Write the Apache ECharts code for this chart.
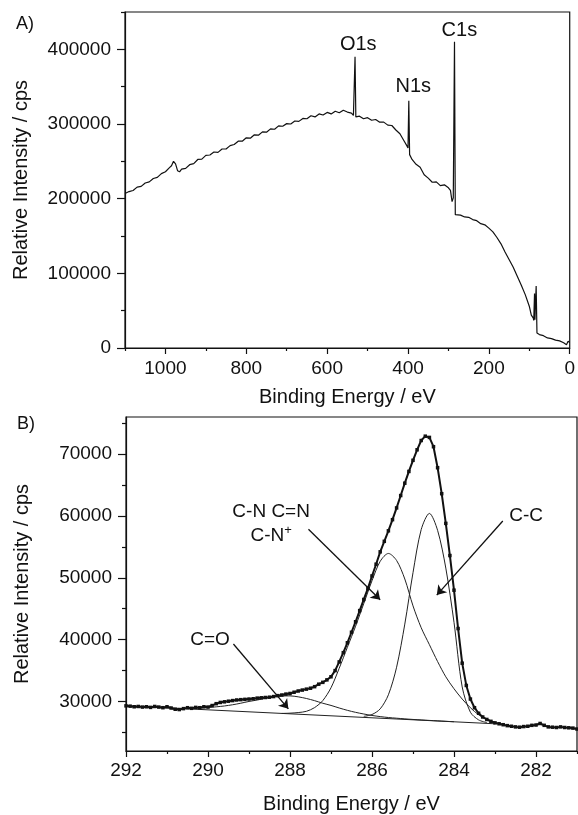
<!DOCTYPE html>
<html>
<head>
<meta charset="utf-8">
<script src="https://cdn.jsdelivr.net/npm/echarts@6/dist/echarts.min.js"></script>
<style>
html, body { margin: 0; padding: 0; background: #fff; }
#xps { width: 578px; height: 815px; }
</style>
</head>
<body>
<div id="xps"></div>
<script>
// ---- A) survey spectrum ----
var surveyEnergy = [1100, 1090, 1080, 1070, 1060, 1050, 1040, 1030, 1020, 1010,
  1000, 990, 985, 980, 975, 970, 965, 960, 950, 940,
  930, 920, 910, 900, 890, 880, 870, 860, 850, 840,
  830, 820, 810, 800, 790, 780, 770, 760, 750, 740,
  730, 720, 710, 700, 690, 680, 670, 660, 650, 640,
  630, 620, 610, 600, 590, 580, 570, 560, 550, 540,
  535, 533, 531, 529, 520, 510, 500, 490, 480, 470,
  460, 450, 440, 430, 420, 410, 403, 400, 398, 396,
  390, 380, 370, 360, 350, 340, 330, 320, 310, 300,
  295, 291, 288, 285, 283, 280, 270, 260, 250, 240,
  230, 220, 210, 200, 190, 180, 170, 160, 150, 140,
  130, 120, 110, 100, 95, 90, 89, 87, 86, 83,
  81, 75, 65, 55, 45, 35, 25, 15, 8, 4, 0];
var surveyCounts = [207000, 209500, 211000, 215500, 216500, 221000, 222500, 227000, 228500, 233500,
  236000, 241500, 244000, 250000, 246500, 237500, 236000, 239500, 240500, 245500,
  247000, 252500, 253000, 258000, 258500, 262500, 262000, 266500, 266500, 271000,
  272500, 277000, 277000, 281500, 281000, 285500, 285000, 289500, 289000, 293500,
  293000, 297500, 297000, 300500, 300000, 304000, 303500, 307500, 307000, 311000,
  309500, 313500, 312000, 315500, 313500, 317000, 315000, 318500, 316000, 314500,
  311500, 310500, 390000, 309500, 310500, 307000, 308500, 305000, 306000, 302500,
  302500, 298500, 298000, 292000, 287000, 277500, 271000, 268000, 331000, 259000,
  252500, 246000, 242000, 232000, 227500, 222000, 222500, 217500, 218500, 214500,
  211000, 196000, 201000, 410000, 178500, 177000, 178000, 175500, 175000, 172000,
  170500, 166500, 165000, 160500, 155500, 148000, 139500, 128500, 118500, 108500,
  96500, 84500, 71500, 56000, 44000, 40000, 37000, 73000, 38000, 83000,
  20000, 18000, 16500, 13500, 12500, 10500, 9500, 7000, 4500, 9000, 7500];
var surveyMajorX = [0, 200, 400, 600, 800, 1000];
var surveyMinorX = [100, 300, 500, 700, 900, 1100];
var surveyMajorY = [0, 100000, 200000, 300000, 400000];
var surveyMinorY = [50000, 150000, 250000, 350000, 450000];
var surveyPeakNames = ['O1s', 'N1s', 'C1s'];
var surveyPeakLabelX = [523, 387, 273];
var surveyPeakLabelY = [406700, 350300, 425500];

// ---- B) C1s high resolution ----
var hiresEnergy = [292.0, 291.9, 291.8, 291.7, 291.6, 291.5, 291.4, 291.3, 291.2, 291.1,
  291.0, 290.9, 290.8, 290.7, 290.6, 290.5, 290.4, 290.3, 290.2, 290.1,
  290.0, 289.9, 289.8, 289.7, 289.6, 289.5, 289.4, 289.3, 289.2, 289.1,
  289.0, 288.9, 288.8, 288.7, 288.6, 288.5, 288.4, 288.3, 288.2, 288.1,
  288.0, 287.9, 287.8, 287.7, 287.6, 287.5, 287.4, 287.3, 287.2, 287.1,
  287.0, 286.9, 286.8, 286.7, 286.6, 286.5, 286.4, 286.3, 286.2, 286.1,
  286.0, 285.9, 285.8, 285.7, 285.6, 285.5, 285.4, 285.3, 285.2, 285.1,
  285.0, 284.9, 284.8, 284.7, 284.6, 284.5, 284.4, 284.3, 284.2, 284.1,
  284.0, 283.9, 283.8, 283.7, 283.6, 283.5, 283.4, 283.3, 283.2, 283.1,
  283.0, 282.9, 282.8, 282.7, 282.6, 282.5, 282.4, 282.3, 282.2, 282.1,
  282.0, 281.9, 281.8, 281.7, 281.6, 281.5, 281.4, 281.3, 281.2, 281.1,
  281.0];
var hiresCounts = [29300, 29250, 29150, 29200, 29100, 29150, 29050, 29200, 29100, 29000,
  29150, 28950, 28750, 28700, 28850, 29000, 28900, 29050, 29000, 29150,
  29100, 29350, 29650, 29850, 29950, 30050, 30150, 30250, 30300, 30350,
  30400, 30450, 30550, 30600, 30650, 30700, 30800, 30950, 31050, 31200,
  31300, 31500, 31700, 31850, 32000, 32150, 32400, 32800, 33100, 33500,
  34000, 35000, 36400, 37900, 39500, 41200, 42900, 44700, 46500, 48300,
  50300, 52200, 54200, 55900, 57600, 59400, 61300, 63300, 65300, 67200,
  69000, 70700, 72200, 72900, 72700, 71200, 67800, 63600, 58800, 53600,
  48000, 41800, 36200, 32600, 30400, 29000, 28100, 27500, 27100, 26800,
  26550, 26400, 26250, 26100, 26000, 25900, 25850, 25950, 26000, 26150,
  26200, 26450, 26150, 25900, 25850, 25800, 25900, 25800, 25750, 25700,
  25550];
var fitEnergy = [290.4, 290.2, 290.0, 289.8, 289.6, 289.4, 289.2, 289.0, 288.8, 288.6,
  288.4, 288.2, 288.0, 287.8, 287.6, 287.4, 287.2, 287.0, 286.8, 286.6,
  286.4, 286.2, 286.0, 285.8, 285.6, 285.4, 285.2, 285.0, 284.8, 284.6,
  284.4, 284.2, 284.0, 283.8, 283.6, 283.4, 283.2, 283.0];
var carbonylFit = [28958, 28978, 29034, 29140, 29280, 29476, 29726, 30012, 30238, 30523,
  30749, 30884, 30910, 30756, 30491, 30137, 29722, 29368, 28954, 28574,
  28250, 27980, 27746, 27562, 27412, 27303, 27195, 27102, 27024, 26944,
  26871, 26801, 26732, null, null, null, null, null];
var cnFit = [null, null, null, null, null, null, null, null, null, null,
  null, 28074, 28117, 28216, 28416, 29017, 30152, 32228, 35369, 38774,
  42180, 45850, 49526, 52667, 53937, 52803, 49808, 45464, 41930, 39195,
  36461, 33996, 32062, 30398, 28993, 27864, 27134, 26670];
var ccFit = [null, null, null, null, null, null, null, null, null, null,
  null, null, null, null, null, null, null, null, null, null,
  null, 27600, 27901, 28812, 31087, 35548, 42518, 50829, 57800, 60415,
  57671, 51576, 42802, 32353, 28268, 27029, 26600, null];
var backgroundEnergy = [292, 283];
var backgroundCounts = [29300, 26400];
var hiresMajorX = [282, 284, 286, 288, 290, 292];
var hiresMinorX = [281, 283, 285, 287, 289, 291];
var hiresMajorY = [30000, 40000, 50000, 60000, 70000];
var hiresMinorY = [25000, 35000, 45000, 55000, 65000, 75000];
var hiresLabelText = ['C=O', 'C-N C=N\nC-N{sup|+}', 'C-C'];
var hiresLabelX = [289.95, 288.46, 282.24];
var hiresLabelY = [40000, 58660, 60000];
var arrowFrom = [[289.38, 39300], [287.55, 57850], [282.81, 59190]];
var arrowTo = [[288.04, 28820], [285.80, 46450], [284.42, 47210]];

var FONT = 'Liberation Sans, Arial, Helvetica, sans-serif';
var INK = '#111';

function pairs(xs, ys) {
  var out = [];
  xs.forEach(function (x, i) {
    if (ys[i] != null) out.push([x, ys[i]]);
  });
  return out;
}

function majorAxis(grid, min, max, inverse, ticks, tickLen, margin, name, nameGap) {
  return {
    gridIndex: grid, type: 'value', min: min, max: max, inverse: inverse,
    axisLine: { show: true, onZero: false, lineStyle: { color: INK, width: 1.2 } },
    axisTick: { show: true, inside: false, length: tickLen, customValues: ticks, lineStyle: { color: INK, width: 1.2 } },
    axisLabel: {
      customValues: ticks, margin: margin, fontSize: 19, color: INK, fontFamily: FONT,
      formatter: function (v) { return String(v); }
    },
    splitLine: { show: false },
    name: name, nameLocation: 'middle', nameGap: nameGap,
    nameTextStyle: { fontSize: 20, color: INK, fontFamily: FONT }
  };
}

function minorAxis(grid, min, max, inverse, ticks, tickLen, position) {
  return {
    gridIndex: grid, type: 'value', min: min, max: max, inverse: inverse, position: position,
    axisLine: { show: false, onZero: false },
    axisTick: { show: true, inside: false, length: tickLen, customValues: ticks, lineStyle: { color: INK, width: 1.2 } },
    axisLabel: { show: false },
    splitLine: { show: false }
  };
}

var xA = majorAxis(0, 0, 1100, true, surveyMajorX, 6, 11, 'Binding Energy / eV', 39);
xA.position = 'bottom';
var yA = majorAxis(0, 0, 450000, false, surveyMajorY, 8, 14, 'Relative Intensity / cps', 94);
yA.position = 'left';
var xB = majorAxis(1, 281, 292, true, hiresMajorX, 6, 10, 'Binding Energy / eV', 43);
xB.position = 'bottom';
var yB = majorAxis(1, 22000, 76000, false, hiresMajorY, 8, 14, 'Relative Intensity / cps', 94);
yB.position = 'left';

var thin = { color: '#222', width: 1 };

var chart = echarts.init(document.getElementById('xps'));
chart.setOption({
  animation: false,
  backgroundColor: '#fff',
  textStyle: { fontFamily: FONT },
  grid: [
    { left: 125, top: 12, width: 452, height: 336, show: true, borderColor: INK, borderWidth: 1.2 },
    { left: 126, top: 417, width: 451, height: 335, show: true, borderColor: INK, borderWidth: 1.2 }
  ],
  xAxis: [xA, minorAxis(0, 0, 1100, true, surveyMinorX, 3, 'bottom'),
          xB, minorAxis(1, 281, 292, true, hiresMinorX, 3, 'bottom')],
  yAxis: [yA, minorAxis(0, 0, 450000, false, surveyMinorY, 4, 'left'),
          yB, minorAxis(1, 22000, 76000, false, hiresMinorY, 4, 'left')],
  graphic: [
    { type: 'text', left: 16, top: 15, style: { text: 'A)', fontSize: 18, fill: INK, fontFamily: FONT } },
    { type: 'text', left: 17, top: 415, style: { text: 'B)', fontSize: 18, fill: INK, fontFamily: FONT } }
  ],
  series: [
    {
      type: 'line', xAxisIndex: 0, yAxisIndex: 0,
      data: pairs(surveyEnergy, surveyCounts),
      showSymbol: false, lineStyle: { color: INK, width: 1.2 },
      markPoint: {
        symbol: 'circle', symbolSize: 1, itemStyle: { color: 'rgba(0,0,0,0)' }, silent: true,
        label: { show: true, position: 'inside', formatter: '{b}', fontSize: 20, color: INK, fontFamily: FONT },
        data: surveyPeakNames.map(function (n, i) {
          return { name: n, coord: [surveyPeakLabelX[i], surveyPeakLabelY[i]] };
        })
      }
    },
    {
      type: 'line', xAxisIndex: 2, yAxisIndex: 2,
      data: pairs(backgroundEnergy, backgroundCounts),
      showSymbol: false, lineStyle: thin
    },
    {
      type: 'line', xAxisIndex: 2, yAxisIndex: 2, smooth: 0.3,
      data: pairs(fitEnergy, carbonylFit), showSymbol: false, lineStyle: thin
    },
    {
      type: 'line', xAxisIndex: 2, yAxisIndex: 2, smooth: 0.3,
      data: pairs(fitEnergy, cnFit), showSymbol: false, lineStyle: thin
    },
    {
      type: 'line', xAxisIndex: 2, yAxisIndex: 2, smooth: 0.3,
      data: pairs(fitEnergy, ccFit), showSymbol: false, lineStyle: thin
    },
    {
      type: 'line', xAxisIndex: 2, yAxisIndex: 2,
      data: pairs(hiresEnergy, hiresCounts),
      symbol: 'rect', symbolSize: 3.5, showSymbol: true,
      itemStyle: { color: INK }, lineStyle: { color: INK, width: 2 },
      markLine: {
        silent: true, symbol: ['none', 'arrow'], symbolSize: 9,
        lineStyle: { color: INK, width: 1.3, type: 'solid' },
        label: { show: false },
        data: arrowFrom.map(function (p, i) {
          return [{ coord: p }, { coord: arrowTo[i] }];
        })
      },
      markPoint: {
        symbol: 'circle', symbolSize: 1, itemStyle: { color: 'rgba(0,0,0,0)' }, silent: true,
        label: {
          show: true, position: 'inside', formatter: '{b}', fontSize: 19, lineHeight: 24,
          color: INK, fontFamily: FONT,
          rich: { sup: { fontSize: 13, verticalAlign: 'top', color: INK, fontFamily: FONT } }
        },
        data: hiresLabelText.map(function (t, i) {
          return { name: t, coord: [hiresLabelX[i], hiresLabelY[i]] };
        })
      }
    }
  ]
});
</script>
</body>
</html>
